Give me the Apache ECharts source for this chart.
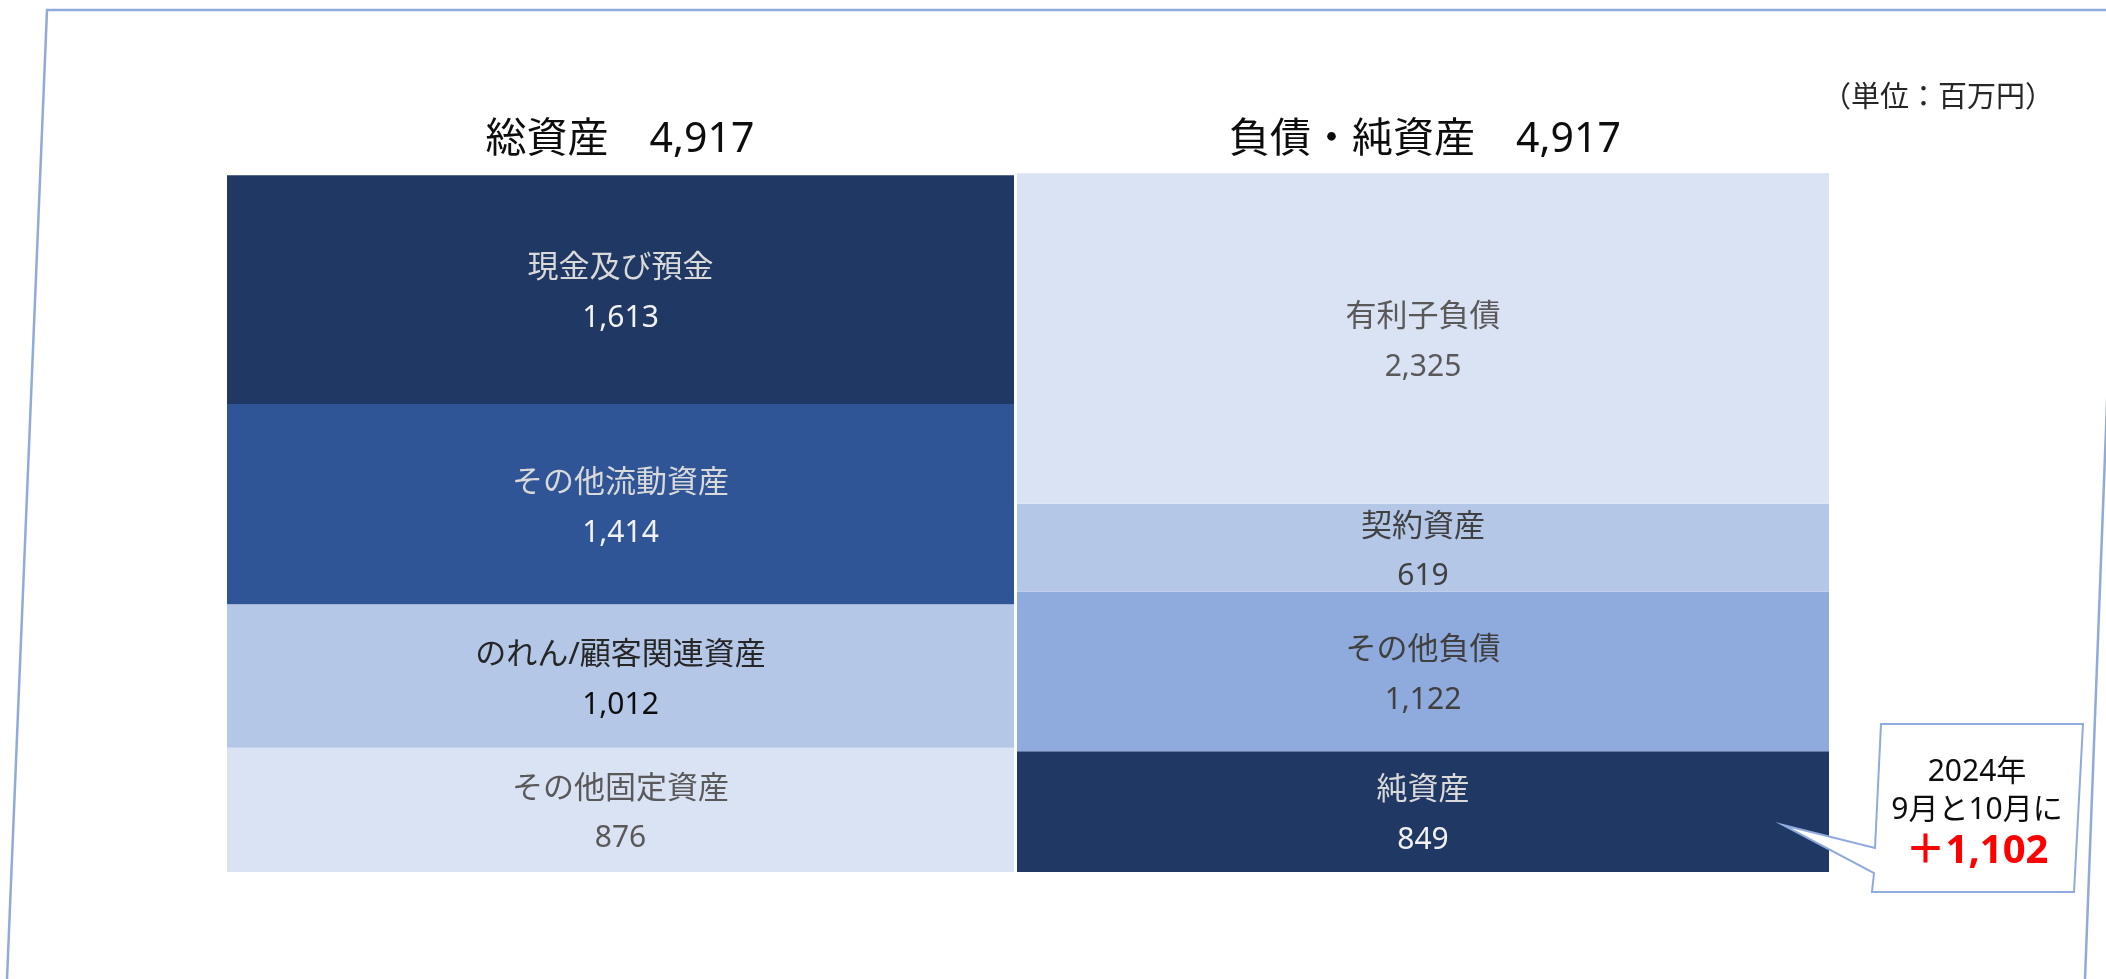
<!DOCTYPE html>
<html lang="ja">
<head>
<meta charset="utf-8">
<title>貸借対照表</title>
<script src="https://cdn.jsdelivr.net/npm/echarts/dist/echarts.min.js"></script>
<style>
  html, body { margin: 0; padding: 0; background: #ffffff; }
  #chart { width: 2106px; height: 979px; }
</style>
</head>
<body>
<div id="chart"></div>
<script>
// 資産の部（上から順）
const assetNames  = ['現金及び預金', 'その他流動資産', 'のれん/顧客関連資産', 'その他固定資産'];
const assetValues = [1613, 1414, 1012, 876];
// 負債・純資産の部（上から順）
const liabNames   = ['有利子負債', '契約資産', 'その他負債', '純資産'];
const liabValues  = [2325, 619, 1122, 849];
// 合計（見出しに表示）
const totalAssets = 4917;
const totalLiab   = 4917;
const titleAssets = '総資産';
const titleLiab   = '負債・純資産';
const unitText    = '（単位：百万円）';
// 吹き出し
const noteLines   = ['2024年', '9月と10月に'];
const noteIncrease = 1102;

const FONT = '"Noto Sans", "Noto Sans CJK JP", sans-serif';
const fmt = v => v.toLocaleString('en-US');

// 色（上から順）
const assetColors = ['#203864', '#2F5597', '#B4C7E7', '#DAE3F3'];
const assetText   = [['#D9D9D9', '#F2F2F2'], ['#D9D9D9', '#F2F2F2'], ['#262626', '#0D0D0D'], ['#595959', '#595959']];
const liabColors  = ['#DAE3F3', '#B4C7E7', '#8FAADC', '#203864'];
const liabText    = [['#595959', '#595959'], ['#404040', '#404040'], ['#404040', '#404040'], ['#D9D9D9', '#F2F2F2']];

function stackSeries(names, values, colors, textColors, axisIdx, stackId) {
  const out = [];
  // 積み上げは下から描くので逆順に追加
  for (let i = names.length - 1; i >= 0; i--) {
    out.push({
      type: 'bar',
      name: names[i],
      stack: stackId,
      xAxisIndex: axisIdx,
      yAxisIndex: axisIdx,
      barWidth: '100%',
      data: [values[i]],
      itemStyle: { color: colors[i] },
      label: {
        show: true,
        position: 'inside',
        offset: [0, 4],
        textBorderWidth: 0,
        formatter: p => '{n|' + p.seriesName + '}\n{v|' + fmt(p.value) + '}',
        rich: {
          n: { fontFamily: FONT, fontSize: 31, lineHeight: 50, color: textColors[i][0], textBorderWidth: 0 },
          v: { fontFamily: FONT, fontSize: 30, lineHeight: 50, color: textColors[i][1], textBorderWidth: 0 }
        }
      },
      emphasis: { disabled: true }
    });
  }
  return out;
}

const chart = echarts.init(document.getElementById('chart'), null, { renderer: 'canvas' });

const option = {
  animation: false,
  backgroundColor: '#ffffff',
  grid: [
    { left: 227, top: 175, width: 787, height: 697 },
    { left: 1017, top: 173, width: 812, height: 699 }
  ],
  xAxis: [
    { type: 'category', gridIndex: 0, data: [titleAssets], show: false },
    { type: 'category', gridIndex: 1, data: [titleLiab], show: false }
  ],
  yAxis: [
    { type: 'value', gridIndex: 0, min: 0, max: totalAssets, show: false },
    { type: 'value', gridIndex: 1, min: 0, max: totalLiab, show: false }
  ],
  series: [
    ...stackSeries(assetNames, assetValues, assetColors, assetText, 0, 'assets'),
    ...stackSeries(liabNames, liabValues, liabColors, liabText, 1, 'liab')
  ],
  graphic: [
    // 外枠（やや傾いた線）
    {
      type: 'polyline', z: -10, silent: true,
      shape: { points: [[7, 979], [47, 10], [2122, 10], [2085, 979]] },
      style: { stroke: '#8FAADC', lineWidth: 2.5, fill: null }
    },
    // 見出し
    {
      type: 'text', x: 620, y: 140, silent: true,
      style: { text: titleAssets + '　' + fmt(totalAssets), fontFamily: FONT, fontSize: 41,
               fill: '#0D0D0D', align: 'center', verticalAlign: 'middle' }
    },
    {
      type: 'text', x: 1425, y: 140, silent: true,
      style: { text: titleLiab + '　' + fmt(totalLiab), fontFamily: FONT, fontSize: 41,
               fill: '#0D0D0D', align: 'center', verticalAlign: 'middle' }
    },
    // 単位
    {
      type: 'text', x: 2054, y: 99, silent: true,
      style: { text: unitText, fontFamily: FONT, fontSize: 29, fill: '#262626',
               align: 'right', verticalAlign: 'middle' }
    },
    // 吹き出し
    {
      type: 'polygon', z: 10, silent: true,
      shape: { points: [[1881, 724], [2083, 724], [2074, 892], [1872, 892],
                        [1874, 873], [1783, 825], [1875, 848]] },
      style: { stroke: '#8FAADC', lineWidth: 2, fill: '#ffffff' }
    },
    {
      type: 'text', x: 1977, y: 772, z: 11, silent: true,
      style: { text: noteLines[0], fontFamily: FONT, fontSize: 30, fill: '#0D0D0D',
               align: 'center', verticalAlign: 'middle' }
    },
    {
      type: 'text', x: 1977, y: 810, z: 11, silent: true,
      style: { text: noteLines[1], fontFamily: FONT, fontSize: 30, fill: '#0D0D0D',
               align: 'center', verticalAlign: 'middle' }
    },
    {
      type: 'text', x: 1977, y: 852, z: 11, silent: true,
      style: { text: '＋' + fmt(noteIncrease), fontFamily: FONT, fontSize: 40, fontWeight: 'bold',
               fill: '#FF0000', align: 'center', verticalAlign: 'middle' }
    }
  ]
};

chart.setOption(option);
</script>
</body>
</html>
